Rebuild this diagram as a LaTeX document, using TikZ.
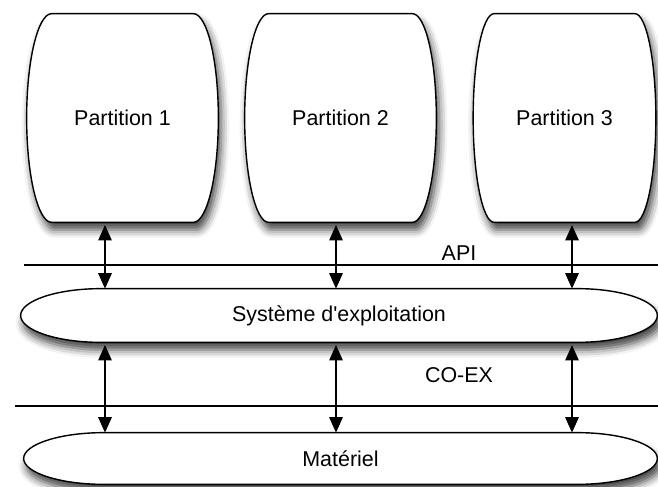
\documentclass[tikz,border=0pt]{standalone}
\usepackage{fontspec}
\setmainfont{Liberation Sans}
\usetikzlibrary{arrows.meta,shadows.blur}

% 边框路径: #1 节点, #2 端部半宽, #3 半高 (cm)
\newcommand{\capsule}[3]{%
  \draw[contour] ([xshift=#2cm]#1.north west) -- ([xshift=-#2cm]#1.north east)
    .. controls +({0.552*#2},0) and +(0,{0.552*#3}) .. (#1.east)
    .. controls +(0,{-0.552*#3}) and +({0.552*#2},0) .. ([xshift=-#2cm]#1.south east)
    -- ([xshift=#2cm]#1.south west)
    .. controls +({-0.552*#2},0) and +(0,{-0.552*#3}) .. (#1.west)
    .. controls +(0,{0.552*#3}) and +({-0.552*#2},0) .. cycle;}

\begin{document}
\begin{tikzpicture}[every node/.style={font=\fontsize{12.2}{14}\selectfont}]

        % 样式
        \tikzstyle{partition} = [rectangle, minimum width=3.82cm, minimum height=4.16cm, text centered]
        \tikzstyle{bande} = [rectangle, minimum height=1.06cm, text centered]
        \tikzstyle{contour} = [line width=0.8pt, draw=black, fill=white, blur shadow={shadow xshift=0.06cm, shadow yshift=-0.15cm, shadow blur radius=0.16cm, shadow opacity=75}]
        \tikzstyle{sepline} = [line width=0.65pt]
        \tikzstyle{fleche} = [line width=0.9pt, draw=black, opacity=1, {Triangle[length=0.31cm,width=0.27cm,fill=black]}-{Triangle[length=0.31cm,width=0.27cm,fill=black]}, shorten <=1.5pt]

        \useasboundingbox (0,0) rectangle (13.16,9.72);

        % 分隔线
        \draw [sepline] (0.48,4.42) -- (13.16,4.42);
        \draw [sepline] (0.30,1.60) -- (13.16,1.60);
        \node (api) at (9.18,4.66) {API};
        \node (coex) at (9.18,2.22) {CO-EX};

        % 节点
        \node (p1) [partition] at (2.45,7.36) {};
        \node (p2) [partition] at (6.81,7.36) {};
        \node (p3) [partition, minimum width=3.64cm] at (11.29,7.36) {};
        \node (os) [bande, minimum width=12.72cm] at (6.78,3.41) {};
        \node (hw) [bande, minimum width=12.66cm, minimum height=1.02cm] at (6.81,0.55) {};

        \capsule{p1}{0.5}{2.08}
        \capsule{p2}{0.48}{2.08}
        \capsule{p3}{0.42}{2.08}
        \capsule{os}{1.6}{0.53}
        \capsule{hw}{1.6}{0.51}

        \node at (p1) {Partition 1};
        \node at (p2) {Partition 2};
        \node at (p3) {Partition 3};
        \node at (os) {Système d\textquotesingle exploitation};
        \node at (hw) {Matériel};

        % 箭头
        \draw [fleche] ([xshift=-0.35cm]p1.south) -- ([xshift=-0.35cm]p1.south |- os.north);
        \draw [fleche] ([xshift=-0.09cm]p2.south) -- ([xshift=-0.09cm]p2.south |- os.north);
        \draw [fleche] ([xshift=0.15cm]p3.south) -- ([xshift=0.15cm]p3.south |- os.north);
        \draw [fleche] ([xshift=-0.35cm]p1.south |- os.south) -- ([xshift=-0.35cm]p1.south |- hw.north);
        \draw [fleche] ([xshift=-0.09cm]p2.south |- os.south) -- ([xshift=-0.09cm]p2.south |- hw.north);
        \draw [fleche] ([xshift=0.15cm]p3.south |- os.south) -- ([xshift=0.15cm]p3.south |- hw.north);

    \end{tikzpicture}
\end{document}
